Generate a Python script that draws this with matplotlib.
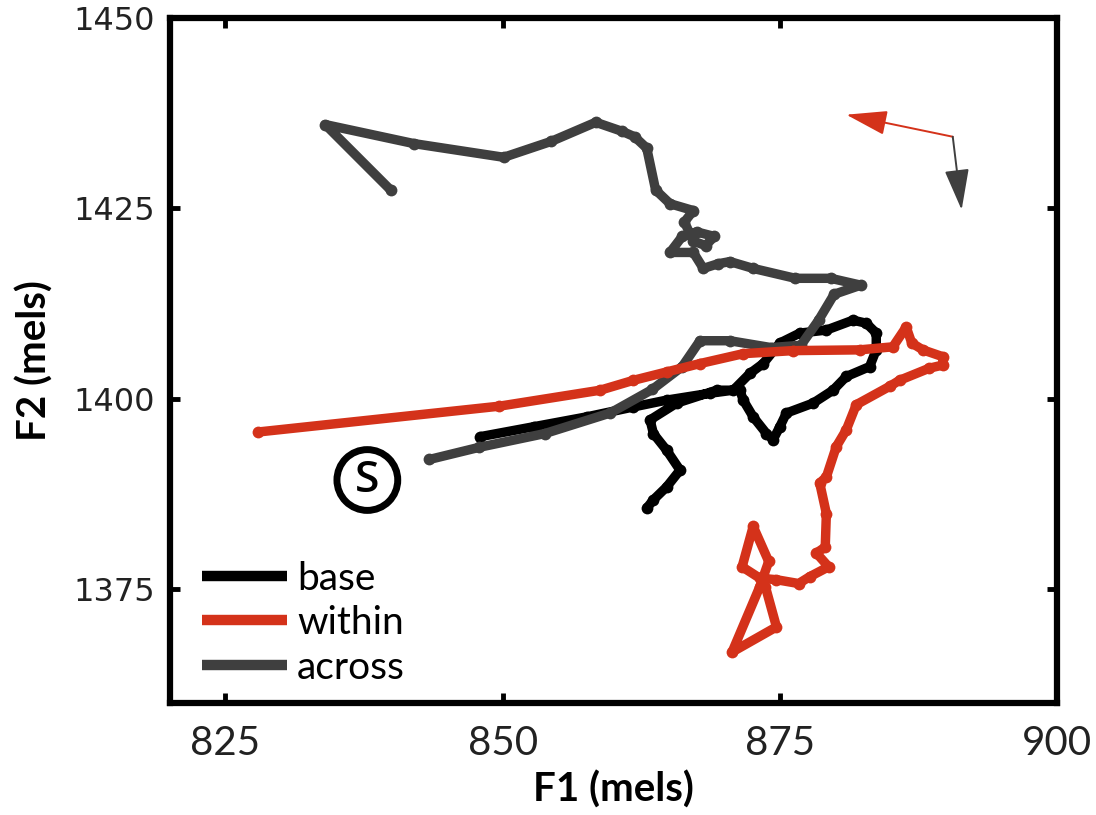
import matplotlib
matplotlib.use("Agg")
import matplotlib.pyplot as plt

# Formant trajectories (F1, F2 in mels) for the three conditions
base_f1 = [848.0, 852.8, 857.6, 861.8, 864.8, 868.7, 870.8, 872.3, 873.5, 875.0,
           876.8, 879.2, 881.6, 882.8, 883.7, 883.7, 883.1, 881.0, 879.8, 878.0,
           875.6, 875.0, 874.4, 873.8, 872.6, 871.7, 871.4, 869.3, 865.7, 863.3,
           863.6, 864.8, 866.0, 864.8, 863.6, 863.0]
base_f2 = [1395.0, 1396.3, 1397.6, 1398.9, 1399.8, 1400.7, 1401.1, 1403.3, 1404.6, 1407.3,
           1408.6, 1409.0, 1410.3, 1409.9, 1408.6, 1406.4, 1404.2, 1402.9, 1401.1, 1399.4,
           1398.1, 1396.3, 1394.6, 1395.4, 1397.6, 1399.8, 1401.1, 1401.1, 1399.4, 1397.2,
           1395.4, 1393.2, 1390.6, 1388.4, 1386.7, 1385.6]

within_f1 = [827.9, 849.7, 858.8, 861.8, 864.8, 867.8, 871.7, 876.2, 882.2, 885.2,
             886.4, 886.9, 887.9, 889.7, 889.7, 888.5, 885.8, 884.9, 881.9, 881.0,
             880.1, 879.2, 878.6, 879.2, 879.1, 878.3, 879.4, 877.7, 876.7, 874.7,
             873.2, 871.6, 872.6, 874.0, 873.2, 870.7, 874.7, 873.7]
within_f2 = [1395.6, 1399.0, 1401.1, 1402.4, 1403.5, 1404.6, 1405.9, 1406.3, 1406.4, 1406.8,
             1409.4, 1407.3, 1406.4, 1405.5, 1404.4, 1404.0, 1402.4, 1401.6, 1399.2, 1395.9,
             1393.7, 1389.7, 1388.9, 1384.9, 1380.5, 1379.7, 1377.9, 1376.6, 1375.7, 1376.2,
             1376.4, 1377.9, 1383.2, 1378.6, 1375.3, 1366.7, 1370.0, 1375.3]

across_f1 = [843.4, 847.9, 853.8, 859.7, 863.5, 866.2, 867.8, 870.5, 874.2, 876.9,
             878.5, 879.9, 882.3, 879.6, 876.4, 872.6, 870.5, 869.4, 868.1, 867.2,
             865.1, 866.2, 867.5, 869.1, 868.3, 867.2, 866.4, 867.2, 865.1, 863.8,
             863.0, 861.9, 860.8, 858.4, 854.4, 850.1, 842.0, 834.0, 839.9]
across_f2 = [1392.0, 1393.6, 1395.4, 1398.1, 1401.2, 1404.2, 1407.6, 1407.6, 1406.7, 1407.0,
             1410.3, 1413.7, 1414.9, 1415.8, 1415.8, 1417.1, 1418.0, 1417.7, 1417.1, 1419.2,
             1419.2, 1421.3, 1421.9, 1421.3, 1420.1, 1420.7, 1423.2, 1424.7, 1425.6, 1427.4,
             1432.9, 1434.4, 1435.1, 1436.3, 1433.8, 1431.7, 1433.5, 1436.0, 1427.4]

series_labels = ["base", "within", "across"]
series_colors = ["#000000", "#d4321a", "#3f3f3f"]

x_ticks = [825, 850, 875, 900]
y_ticks = [1375, 1400, 1425, 1450]

# Direction key in the upper right corner
key_origin = (890.6, 1434.4)
key_f2_tip = (881.0, 1437.3)
key_f1_tip = (891.4, 1424.8)

# Start marker
start_pos = (837.8, 1389.3)

narrow = ["Lato", "DejaVu Sans"]

fig = plt.figure(figsize=(10.96, 8.15), dpi=100)
ax = fig.add_axes([0.1551, 0.1374, 0.8093, 0.8405])

lw = 6.8
ms = 8.5
for (xs, ys), lab, col, z in zip(
        [(base_f1, base_f2), (within_f1, within_f2), (across_f1, across_f2)],
        series_labels, series_colors, [2, 4, 3]):
    ax.plot(xs, ys, color=col, lw=lw, marker="o", ms=ms, mew=0,
            solid_joinstyle="round", solid_capstyle="butt", label=lab, zorder=z)

arrow_style = "-|>,head_length=1.5,head_width=0.45"
ax.annotate("", xy=key_f2_tip, xytext=key_origin,
            arrowprops=dict(arrowstyle=arrow_style, color=series_colors[1], lw=1.4,
                            mutation_scale=17, shrinkA=0, shrinkB=0))
ax.annotate("", xy=key_f1_tip, xytext=key_origin,
            arrowprops=dict(arrowstyle=arrow_style, color=series_colors[2], lw=1.4,
                            mutation_scale=17, shrinkA=0, shrinkB=0))

ax.text(*start_pos, "S", fontsize=32, family=["Open Sans", "DejaVu Sans"],
        fontweight="semibold", ha="center", va="center",
        bbox=dict(boxstyle="circle,pad=0.2", fc="white", ec="black", lw=5))

ax.set_xlim(820, 900)
ax.set_ylim(1360, 1450)
ax.set_xticks(x_ticks)
ax.set_yticks(y_ticks)
ax.tick_params(direction="in", length=7, width=3.5, top=True, right=True)
ax.tick_params(axis="x", pad=16)
ax.tick_params(axis="y", pad=11)
for lab in ax.get_xticklabels():
    lab.set_family(narrow)
    lab.set_fontsize(29)
    lab.set_color("#222222")
for lab in ax.get_yticklabels():
    lab.set_family("DejaVu Sans")
    lab.set_fontsize(23)
    lab.set_color("#222222")
for sp in ax.spines.values():
    sp.set_linewidth(4.5)

ax.set_xlabel("F1 (mels)", fontsize=29, family=narrow, fontweight="bold", labelpad=6)
ax.set_ylabel("F2 (mels)", fontsize=29, family=narrow, fontweight="bold", labelpad=14)

leg = ax.legend(loc="upper left", bbox_to_anchor=(0.036, 0.208), frameon=False,
                prop={"family": narrow, "size": 28}, handlelength=2.2,
                handletextpad=0.25, labelspacing=0.22, borderpad=0, borderaxespad=0)
for h in leg.get_lines():
    h.set_marker("")
    h.set_linewidth(7.5)

fig.savefig("out.png", dpi=100)
